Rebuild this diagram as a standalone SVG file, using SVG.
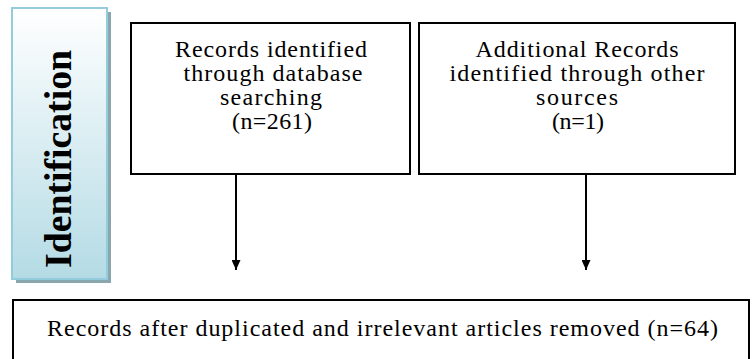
<svg xmlns="http://www.w3.org/2000/svg" width="752" height="359" viewBox="0 0 752 359">
<style>
.box{fill:#fff;stroke:#000;stroke-width:2}
.t{font-family:"Liberation Serif","Times New Roman",Tinos,Times,serif;font-size:24px;fill:#000;text-anchor:middle}
.id{font-family:"Liberation Serif","Times New Roman",Tinos,Times,serif;font-size:38px;font-weight:bold;fill:#000;text-anchor:middle}
.conn{stroke:#000;stroke-width:2;fill:none}
</style>
<defs>
<linearGradient id="g" x1="0" y1="0" x2="0" y2="1">
<stop offset="0" stop-color="#ffffff"/>
<stop offset="1" stop-color="#b4dbe5"/>
</linearGradient>
<marker id="ah" markerWidth="10" markerHeight="9" refX="10" refY="4.5" orient="auto" markerUnits="userSpaceOnUse">
<path d="M0,0 L10,4.5 L0,9 Z" fill="#000"/>
</marker>
</defs>
<g id="identification">
<rect x="16" y="12" width="95" height="271" fill="#8ba7ae"/>
<rect x="12" y="8" width="95" height="271" fill="url(#g)" stroke="#93cddd" stroke-width="2"/>
<text class="id" transform="translate(71,159) rotate(-90)" textLength="218" lengthAdjust="spacingAndGlyphs">Identification</text>
</g>
<g id="db-records">
<rect class="box" x="131" y="23" width="279" height="151"/>
<text class="t" x="271" y="57" textLength="192">Records identified</text>
<text class="t" x="273" y="81" textLength="179">through database</text>
<text class="t" x="271" y="105" textLength="102">searching</text>
<text class="t" x="272" y="129" textLength="80">(n=261)</text>
</g>
<g id="other-records">
<rect class="box" x="419" y="23" width="316" height="151"/>
<text class="t" x="577" y="57" textLength="203">Additional Records</text>
<text class="t" x="577" y="81" textLength="255">identified through other</text>
<text class="t" x="577" y="105" textLength="82">sources</text>
<text class="t" x="578" y="129" textLength="52">(n=1)</text>
</g>
<g id="after-dup">
<rect class="box" x="13" y="300" width="736" height="70"/>
<text class="t" x="382.5" y="336" textLength="671">Records after duplicated and irrelevant articles removed (n=64)</text>
</g>
<g id="connectors">
<line class="conn" x1="236" y1="175" x2="236" y2="270" marker-end="url(#ah)"/>
<line class="conn" x1="586" y1="175" x2="586" y2="270" marker-end="url(#ah)"/>
</g>
</svg>
